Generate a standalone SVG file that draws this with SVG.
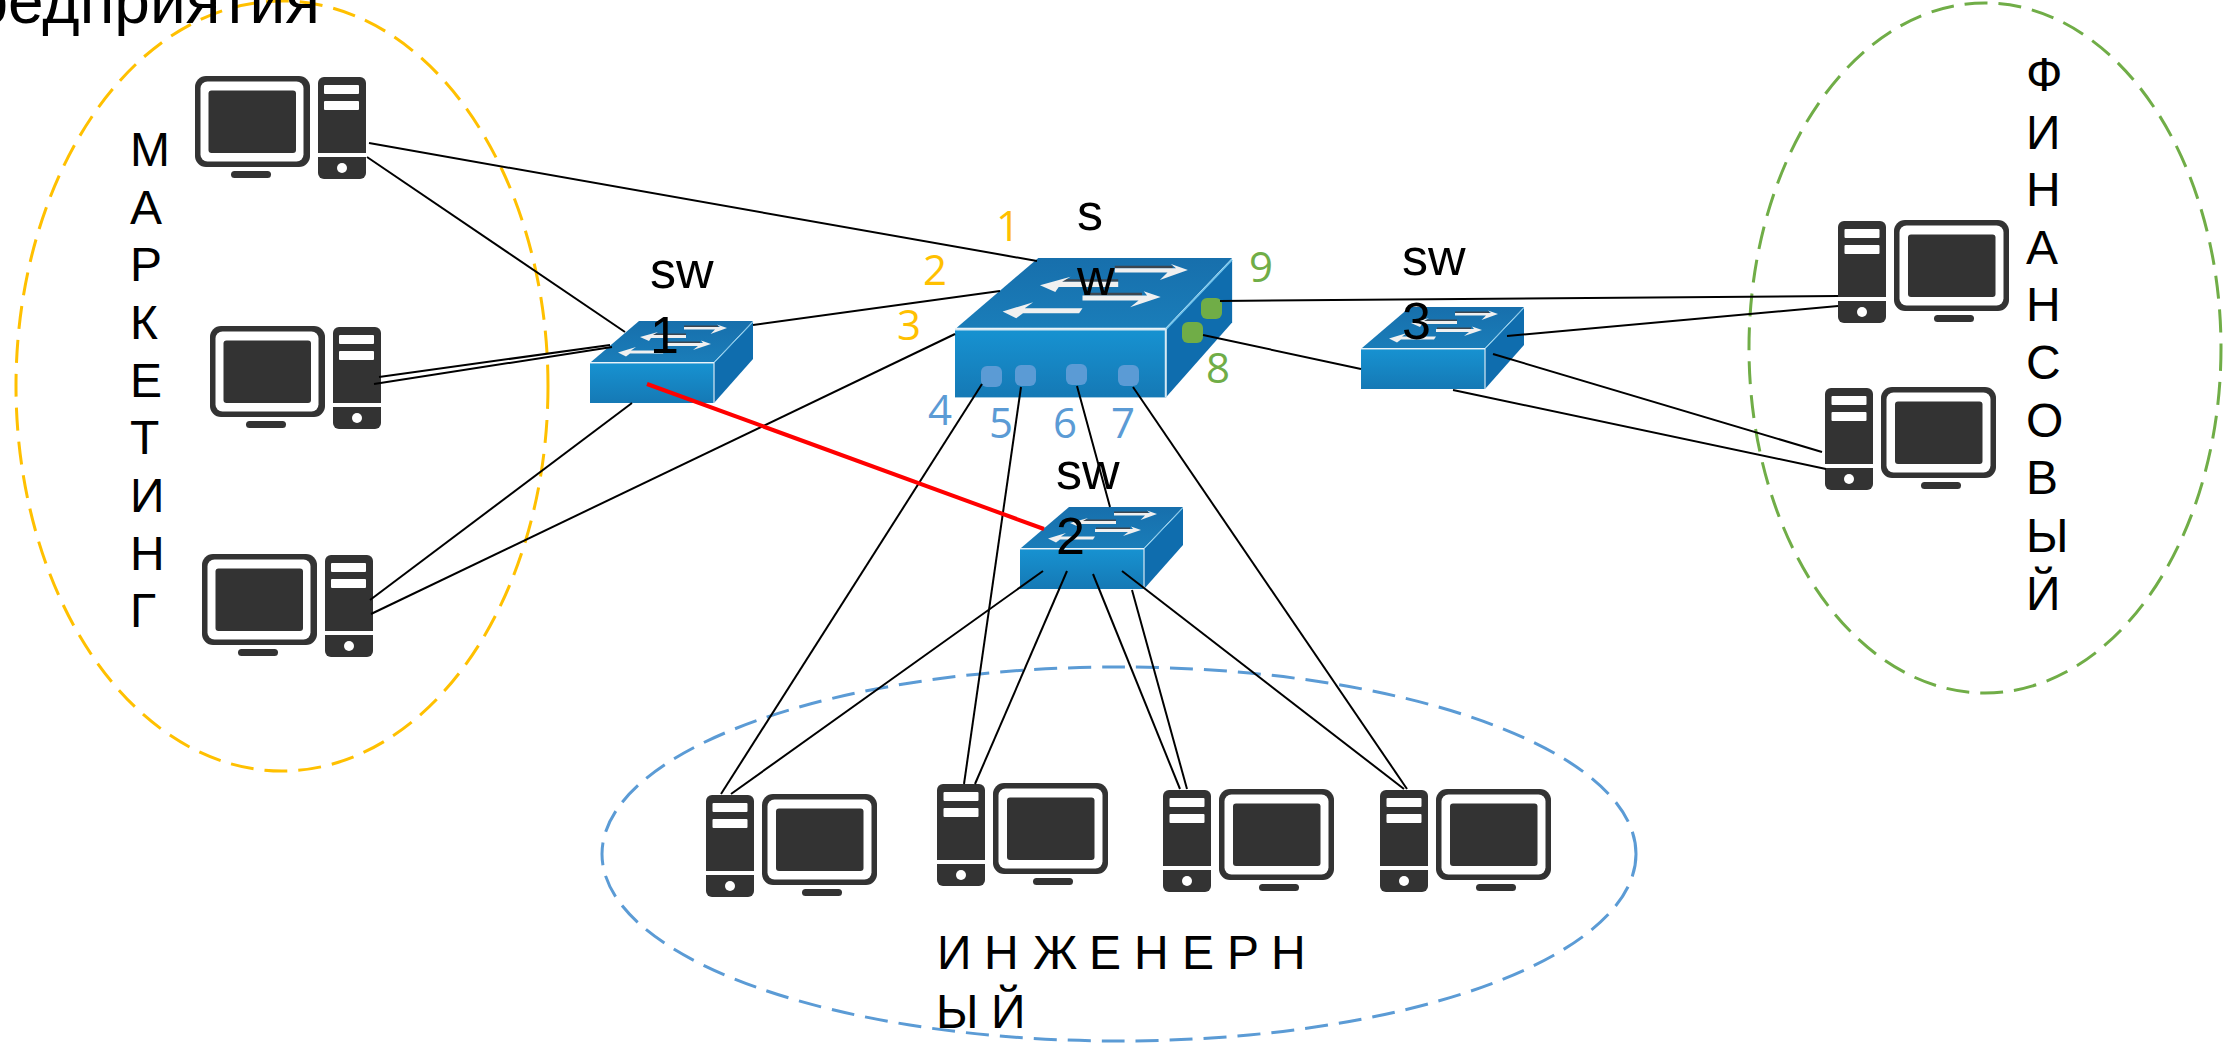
<svg xmlns="http://www.w3.org/2000/svg" width="2229" height="1051" viewBox="0 0 2229 1051">
<style>
.zone{fill:none;stroke-width:3;stroke-dasharray:23 11}
.dk{fill:#333}
.wh{fill:#fff}
.cn{stroke:#000;stroke-width:2;fill:none}
.txt{font-family:"Liberation Sans",Arial,sans-serif;font-size:48px;fill:#000}
.sw{font-family:"Liberation Sans",Arial,sans-serif;font-size:52px;fill:#000}
.num{font-family:"Open Sans","Noto Sans",sans-serif;font-size:42px;text-anchor:middle}
.or{fill:#FFC000}.bl{fill:#5B9BD5}.gr{fill:#70AD47}
.arr{fill:#f0f0f0}
.shade{fill:#3c4650}
</style>
<defs>
<linearGradient id="gF" x1="0" y1="0" x2="0" y2="1"><stop offset="0" stop-color="#1792d1"/><stop offset="1" stop-color="#1579b5"/></linearGradient>
<linearGradient id="gT" x1="0" y1="0" x2="0" y2="1"><stop offset="0" stop-color="#176fac"/><stop offset="1" stop-color="#1a7db9"/></linearGradient>
<g id="pcR">
<rect class="dk" width="115" height="91" rx="11"/>
<rect class="wh" x="5.5" y="5.5" width="103" height="80" rx="7"/>
<rect class="dk" x="13.500" y="14.500" width="87.500" height="62.500" rx="3"/>
<rect class="dk" x="36" y="95" width="40" height="7" rx="3.500"/>
<path class="dk" d="M123 77V7a6 6 0 0 1 6-6h36a6 6 0 0 1 6 6v70z"/>
<path class="dk" d="M123 81h48v16a6 6 0 0 1-6 6h-36a6 6 0 0 1-6-6z"/>
<rect class="wh" x="129" y="9" width="35" height="9" rx="1"/>
<rect class="wh" x="129" y="25" width="35" height="9" rx="1"/>
<circle class="wh" cx="147" cy="92" r="5"/>
</g>
<g id="pcL">
<rect class="dk" x="56" width="115" height="91" rx="11"/>
<rect class="wh" x="61.500" y="5.500" width="104" height="80" rx="7"/>
<rect class="dk" x="70" y="14.500" width="87.500" height="62.500" rx="3"/>
<rect class="dk" x="96" y="95" width="40" height="7" rx="3.500"/>
<path class="dk" d="M0 77V7a6 6 0 0 1 6-6h36a6 6 0 0 1 6 6v70z"/>
<path class="dk" d="M0 81h48v16a6 6 0 0 1-6 6H6a6 6 0 0 1-6-6z"/>
<rect class="wh" x="6.500" y="9" width="35" height="9" rx="1"/>
<rect class="wh" x="6.500" y="25" width="35" height="9" rx="1"/>
<circle class="wh" cx="24" cy="92" r="5"/>
</g>
<g id="switch">
<path fill="url(#gT)" d="M1 41L49 0H163L124 41z"/>
<path fill="#0f6dae" d="M124 42L163 1V38L124 82z"/>
<path fill="none" stroke="#6fc3ec" stroke-width="1" d="M124 42L163 1"/>
<rect x="0" y="42" width="124" height="40" fill="url(#gF)"/>
<path fill="none" stroke="#d5e8f3" stroke-width="1.200" d="M0 42H124V82"/>
<path class="shade" d="M94 4.500H128V6H94z"/>
<path class="arr" d="M94 6H130L127 3.500L137 7L120.500 13L125 8.500H94z"/>
<path class="shade" d="M63 12.500H96V14H63z"/>
<path class="arr" d="M96 14H63L68 11L50 16L59 20L61 17H96z"/>
<path class="shade" d="M76 20.500H110V22H76z"/>
<path class="arr" d="M75 22H113L111 19.500L121 23L103 29L108 25H75z"/>
<path class="arr" d="M75 29.500H41L46 26L28 31.500L36 35.500L40 32.500H73z"/>
</g>
</defs>
<g id="zones">
<ellipse class="zone" stroke="#FFC000" cx="282" cy="386" rx="266" ry="385"/>
<ellipse class="zone" stroke="#70AD47" cx="1985" cy="348" rx="236" ry="345"/>
<ellipse class="zone" stroke="#5B9BD5" cx="1119" cy="854" rx="517" ry="187"/>
</g>
<g id="pc1"><use href="#pcR" x="195" y="76"/></g>
<g id="pc2"><use href="#pcR" x="210" y="326"/></g>
<g id="pc3"><use href="#pcR" x="202" y="554"/></g>
<g id="pc4"><use href="#pcL" x="706" y="794"/></g>
<g id="pc5"><use href="#pcL" x="937" y="783"/></g>
<g id="pc6"><use href="#pcL" x="1163" y="789"/></g>
<g id="pc7"><use href="#pcL" x="1380" y="789"/></g>
<g id="pc8"><use href="#pcL" x="1838" y="220"/></g>
<g id="pc9"><use href="#pcL" x="1825" y="387"/></g>
<g id="sw1"><use href="#switch" x="590" y="321"/>
<text class="sw" x="650" y="288">sw</text><text class="sw" x="650" y="353">1</text></g>
<g id="sw2"><use href="#switch" x="1020" y="507"/>
<text class="sw" x="1056" y="489">sw</text><text class="sw" x="1056" y="554">2</text></g>
<g id="sw3"><use href="#switch" x="1361" y="307"/>
<text class="sw" x="1402" y="275">sw</text><text class="sw" x="1402" y="339">3</text></g>
<g id="main-switch"><use href="#switch" transform="translate(955 258) scale(1.7)"/>
<g class="bl">
<rect x="981" y="366" width="21" height="21" rx="6"/>
<rect x="1015" y="365" width="21" height="21" rx="6"/>
<rect x="1066" y="364" width="21" height="21" rx="6"/>
<rect x="1118" y="365" width="21" height="21" rx="6"/>
</g>
<g class="gr">
<rect x="1201" y="298" width="21" height="21" rx="6"/>
<rect x="1182" y="322" width="21" height="21" rx="6"/>
</g>
<text class="sw" x="1077" y="230">s</text><text class="sw" x="1077" y="295">w</text></g>
<g id="connectors">
<path class="cn" d="M369 143L1037 261"/>
<path class="cn" d="M367 157L625 332"/>
<path class="cn" d="M379 377L610 345"/>
<path class="cn" d="M374 384L612 347"/>
<path class="cn" d="M370 600L632 403"/>
<path class="cn" d="M371 614L955 334"/>
<path class="cn" d="M753 325L1000 291"/>
<path class="cn" d="M982 384L721 794"/>
<path class="cn" d="M1021 387L964 784"/>
<path class="cn" d="M1077 386L1110 507"/>
<path class="cn" d="M1133 387L1407 789"/>
<path class="cn" d="M1043 571L731 794"/>
<path class="cn" d="M1067 571L975 784"/>
<path class="cn" d="M1093 574L1180 789"/>
<path class="cn" d="M1132 590L1187 789"/>
<path class="cn" d="M1122 571L1404 789"/>
<path class="cn" d="M1203 335L1361 369"/>
<path class="cn" d="M1220 301L1838 296"/>
<path class="cn" d="M1507 336L1838 306"/>
<path class="cn" d="M1493 354L1822 452"/>
<path class="cn" d="M1453 390L1826 469"/>
<path d="M647 384L1044 529" stroke="#ff0000" stroke-width="4" fill="none"/>
</g>
<g id="port-numbers">
<text class="num or" x="1008" y="241">1</text>
<text class="num or" x="935" y="285">2</text>
<text class="num or" x="909" y="340">3</text>
<text class="num bl" x="940" y="425">4</text>
<text class="num bl" x="1001" y="438">5</text>
<text class="num bl" x="1065" y="438">6</text>
<text class="num bl" x="1123" y="438">7</text>
<text class="num gr" x="1218" y="383">8</text>
<text class="num gr" x="1261" y="282">9</text>
</g>
<g id="labels">
<text class="txt" x="320" y="23" text-anchor="end" style="font-size:64px">редприятия</text>
<text class="txt"><tspan x="130" y="166">М</tspan><tspan x="130" y="224">А</tspan><tspan x="130" y="281">Р</tspan><tspan x="130" y="339">К</tspan><tspan x="130" y="397">Е</tspan><tspan x="130" y="454">Т</tspan><tspan x="130" y="512">И</tspan><tspan x="130" y="570">Н</tspan><tspan x="130" y="627">Г</tspan></text>
<text class="txt"><tspan x="2026" y="91">Ф</tspan><tspan x="2026" y="149">И</tspan><tspan x="2026" y="206">Н</tspan><tspan x="2026" y="264">А</tspan><tspan x="2026" y="321">Н</tspan><tspan x="2026" y="379">С</tspan><tspan x="2026" y="437">О</tspan><tspan x="2026" y="494">В</tspan><tspan x="2026" y="552">Ы</tspan><tspan x="2026" y="610">Й</tspan></text>
<text class="txt" y="969" x="937 971 984 1019 1033 1079 1089 1122 1134 1169 1182 1215 1227 1260 1271">И Н Ж Е Н Е Р Н</text>
<text class="txt" y="1028" x="936 980 991">Ы Й</text>
</g>
</svg>
